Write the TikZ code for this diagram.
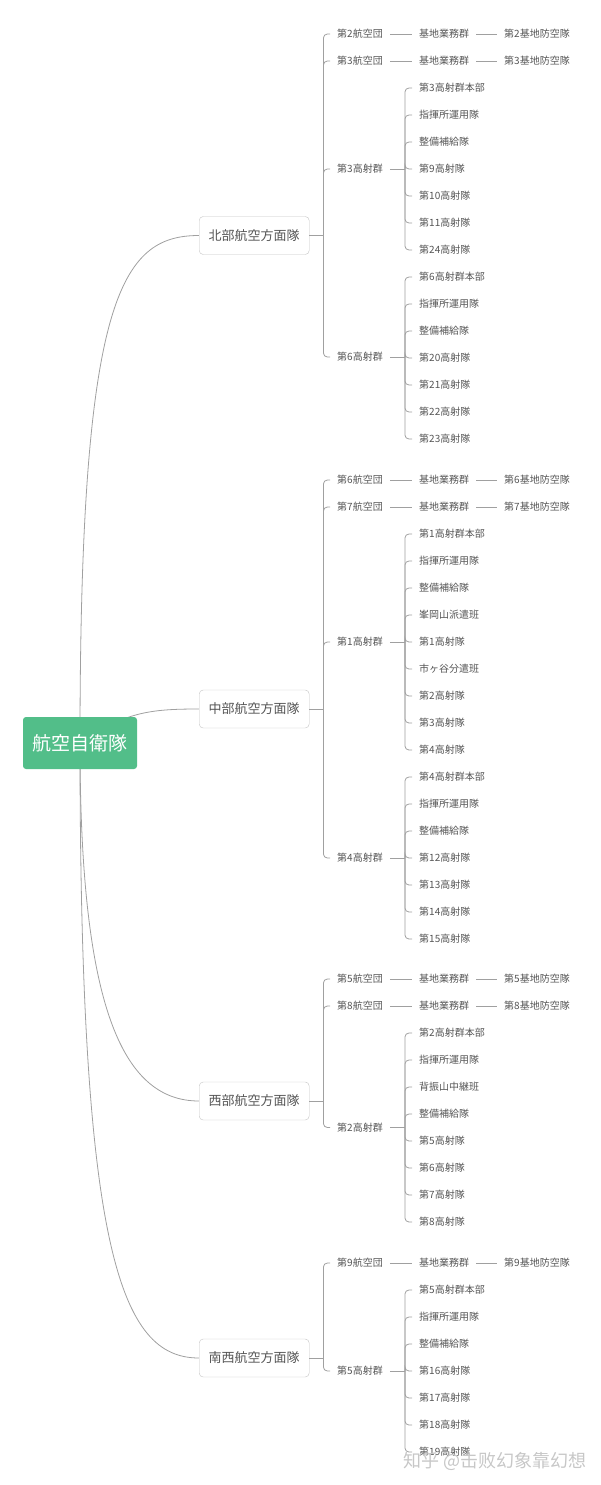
\documentclass[tikz,border=0pt]{standalone}
\usepackage{fontspec}
\setmainfont{Noto Sans CJK JP}
\newfontfamily\cjksc{Noto Sans CJK SC}
\usetikzlibrary{backgrounds}
\definecolor{mapgreen}{HTML}{52BE89}
\definecolor{maptext}{HTML}{555555}
\definecolor{mapline}{HTML}{A0A0A0}
\definecolor{mapframe}{HTML}{C4C4C4}
\tikzset{
  rootbox/.style={fill=mapgreen, rounded corners=3pt, text=white, minimum width=114pt, minimum height=52pt, font=\fontsize{19}{22}\selectfont},
  armybox/.style={draw=mapframe, fill=white, rounded corners=4pt, text=maptext, minimum width=110pt, minimum height=38pt, anchor=west, font=\fontsize{13}{15}\selectfont},
  unit/.style={text=maptext, inner xsep=7pt, inner ysep=2pt, anchor=west, font=\fontsize{10}{12}\selectfont},
  link/.style={draw=mapline, line width=0.8pt, rounded corners=4pt},
  curve/.style={draw=mapline, line width=0.8pt}
}
\begin{document}
\begin{tikzpicture}[x=1pt, y=-1pt]
\useasboundingbox (0,0) rectangle (600,1485);

\node[rootbox] (jasdf) at (80,743) {航空自衛隊};

\node[armybox] (north) at (199,235.5) {北部航空方面隊};
\node[armybox] (central) at (199,709) {中部航空方面隊};
\node[armybox] (west) at (199,1101) {西部航空方面隊};
\node[armybox] (sw) at (199,1358) {南西航空方面隊};

\begin{scope}[on background layer]
\draw[curve] (jasdf.center) .. controls (80,300) and (120,235.5) .. (north.west);
\draw[curve] (jasdf.center) .. controls (125,712) and (150,709) .. (central.west);
\draw[curve] (jasdf.center) .. controls (80,1000) and (120,1101) .. (west.west);
\draw[curve] (jasdf.center) .. controls (80,1250) and (120,1358) .. (sw.west);
\end{scope}

% north
\node[unit] (n2w) at (330,34) {第2航空団};
\node[unit] (n2b) at (412,34) {基地業務群};
\node[unit] (n2d) at (497,34) {第2基地防空隊};
\node[unit] (n3w) at (330,61) {第3航空団};
\node[unit] (n3b) at (412,61) {基地業務群};
\node[unit] (n3d) at (497,61) {第3基地防空隊};
\node[unit] (n3g) at (330,169) {第3高射群};
\node[unit] (n6g) at (330,357) {第6高射群};
\draw[link] (north.east) -- ++(14,0) coordinate (north-x);
\foreach \n in {n2w,n3w,n3g,n6g}
  \draw[link] (north-x) |- (\n.west);
\draw[link] (n2w) -- (n2b);
\draw[link] (n2b) -- (n2d);
\draw[link] (n3w) -- (n3b);
\draw[link] (n3b) -- (n3d);
\draw[link] (n3g.east) -- ++(15,0) coordinate (n3g-x);
\foreach \t [count=\i] in {第3高射群本部,指揮所運用隊,整備補給隊,第9高射隊,第10高射隊,第11高射隊,第24高射隊} {
  \node[unit] (n3g-\i) at (412,61+27*\i) {\t};
  \draw[link] (n3g-x) |- (n3g-\i.west);
}
\draw[link] (n6g.east) -- ++(15,0) coordinate (n6g-x);
\foreach \t [count=\i] in {第6高射群本部,指揮所運用隊,整備補給隊,第20高射隊,第21高射隊,第22高射隊,第23高射隊} {
  \node[unit] (n6g-\i) at (412,250+27*\i) {\t};
  \draw[link] (n6g-x) |- (n6g-\i.west);
}

% central
\node[unit] (c6w) at (330,480) {第6航空団};
\node[unit] (c6b) at (412,480) {基地業務群};
\node[unit] (c6d) at (497,480) {第6基地防空隊};
\node[unit] (c7w) at (330,507) {第7航空団};
\node[unit] (c7b) at (412,507) {基地業務群};
\node[unit] (c7d) at (497,507) {第7基地防空隊};
\node[unit] (c1g) at (330,642) {第1高射群};
\node[unit] (c4g) at (330,858) {第4高射群};
\draw[link] (central.east) -- ++(14,0) coordinate (central-x);
\foreach \n in {c6w,c7w,c1g,c4g}
  \draw[link] (central-x) |- (\n.west);
\draw[link] (c6w) -- (c6b);
\draw[link] (c6b) -- (c6d);
\draw[link] (c7w) -- (c7b);
\draw[link] (c7b) -- (c7d);
\draw[link] (c1g.east) -- ++(15,0) coordinate (c1g-x);
\foreach \t [count=\i] in {第1高射群本部,指揮所運用隊,整備補給隊,峯岡山派遣班,第1高射隊,市ヶ谷分遣班,第2高射隊,第3高射隊,第4高射隊} {
  \node[unit] (c1g-\i) at (412,507+27*\i) {\t};
  \draw[link] (c1g-x) |- (c1g-\i.west);
}
\draw[link] (c4g.east) -- ++(15,0) coordinate (c4g-x);
\foreach \t [count=\i] in {第4高射群本部,指揮所運用隊,整備補給隊,第12高射隊,第13高射隊,第14高射隊,第15高射隊} {
  \node[unit] (c4g-\i) at (412,750+27*\i) {\t};
  \draw[link] (c4g-x) |- (c4g-\i.west);
}

% west
\node[unit] (w5w) at (330,979) {第5航空団};
\node[unit] (w5b) at (412,979) {基地業務群};
\node[unit] (w5d) at (497,979) {第5基地防空隊};
\node[unit] (w8w) at (330,1006) {第8航空団};
\node[unit] (w8b) at (412,1006) {基地業務群};
\node[unit] (w8d) at (497,1006) {第8基地防空隊};
\node[unit] (w2g) at (330,1127.5) {第2高射群};
\draw[link] (west.east) -- ++(14,0) coordinate (west-x);
\foreach \n in {w5w,w8w,w2g}
  \draw[link] (west-x) |- (\n.west);
\draw[link] (w5w) -- (w5b);
\draw[link] (w5b) -- (w5d);
\draw[link] (w8w) -- (w8b);
\draw[link] (w8b) -- (w8d);
\draw[link] (w2g.east) -- ++(15,0) coordinate (w2g-x);
\foreach \t [count=\i] in {第2高射群本部,指揮所運用隊,背振山中継班,整備補給隊,第5高射隊,第6高射隊,第7高射隊,第8高射隊} {
  \node[unit] (w2g-\i) at (412,1006+27*\i) {\t};
  \draw[link] (w2g-x) |- (w2g-\i.west);
}

% south west
\node[unit] (s9w) at (330,1263) {第9航空団};
\node[unit] (s9b) at (412,1263) {基地業務群};
\node[unit] (s9d) at (497,1263) {第9基地防空隊};
\node[unit] (s5g) at (330,1371) {第5高射群};
\draw[link] (sw.east) -- ++(14,0) coordinate (sw-x);
\foreach \n in {s9w,s5g}
  \draw[link] (sw-x) |- (\n.west);
\draw[link] (s9w) -- (s9b);
\draw[link] (s9b) -- (s9d);
\draw[link] (s5g.east) -- ++(15,0) coordinate (s5g-x);
\foreach \t [count=\i] in {第5高射群本部,指揮所運用隊,整備補給隊,第16高射隊,第17高射隊,第18高射隊,第19高射隊} {
  \node[unit] (s5g-\i) at (412,1263+27*\i) {\t};
  \draw[link] (s5g-x) |- (s5g-\i.west);
}

\node[text=black!22, font=\cjksc\fontsize{18}{21}\selectfont] (mark) at (495,1461) {知乎 @击败幻象靠幻想};
\end{tikzpicture}
\end{document}
